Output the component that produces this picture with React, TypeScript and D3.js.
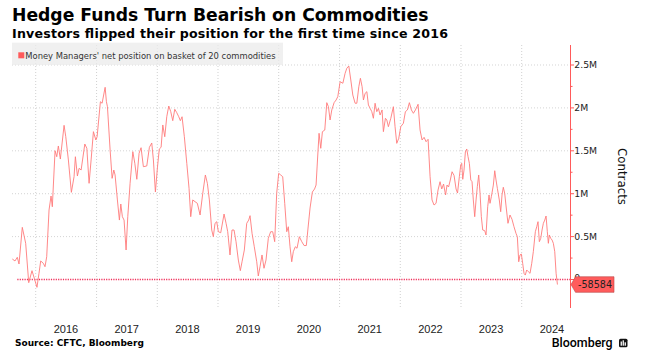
import React from "react";
import * as d3 from "d3";

// Weekly-ish observations as decimal years
const weeks: number[] = [2015.615,2015.659,2015.697,2015.725,2015.779,2015.835,2015.885,2015.939,2015.977,2016.021,2016.054,2016.082,2016.125,2016.153,2016.181,2016.219,2016.252,2016.273,2016.318,2016.346,2016.372,2016.405,2016.466,2016.494,2016.537,2016.586,2016.630,2016.652,2016.685,2016.713,2016.746,2016.807,2016.840,2016.877,2016.910,2016.948,2016.988,2017.009,2017.063,2017.091,2017.141,2017.162,2017.179,2017.223,2017.256,2017.284,2017.305,2017.343,2017.376,2017.399,2017.425,2017.453,2017.486,2017.514,2017.552,2017.597,2017.630,2017.663,2017.700,2017.733,2017.771,2017.827,2017.870,2017.909,2017.936,2017.969,2018.002,2018.033,2018.063,2018.091,2018.123,2018.156,2018.189,2018.222,2018.255,2018.288,2018.321,2018.354,2018.380,2018.408,2018.446,2018.486,2018.523,2018.551,2018.584,2018.622,2018.660,2018.705,2018.749,2018.792,2018.825,2018.858,2018.897,2018.923,2018.951,2018.979,2019.006,2019.045,2019.100,2019.133,2019.160,2019.198,2019.231,2019.264,2019.297,2019.335,2019.368,2019.396,2019.434,2019.473,2019.506,2019.528,2019.561,2019.598,2019.638,2019.664,2019.692,2019.725,2019.758,2019.791,2019.829,2019.868,2019.901,2019.934,2019.967,2020.000,2020.033,2020.066,2020.099,2020.132,2020.158,2020.186,2020.214,2020.240,2020.273,2020.301,2020.339,2020.379,2020.417,2020.454,2020.482,2020.515,2020.553,2020.589,2020.614,2020.639,2020.663,2020.691,2020.718,2020.757,2020.790,2020.817,2020.844,2020.872,2020.910,2020.943,2020.971,2021.009,2021.054,2021.091,2021.119,2021.152,2021.185,2021.218,2021.256,2021.284,2021.317,2021.343,2021.371,2021.393,2021.421,2021.449,2021.475,2021.503,2021.531,2021.557,2021.585,2021.613,2021.640,2021.667,2021.700,2021.722,2021.755,2021.778,2021.804,2021.844,2021.886,2021.914,2021.942,2021.975,2022.008,2022.051,2022.084,2022.117,2022.150,2022.183,2022.216,2022.249,2022.293,2022.326,2022.359,2022.392,2022.425,2022.458,2022.491,2022.523,2022.556,2022.589,2022.622,2022.655,2022.683,2022.713,2022.746,2022.770,2022.795,2022.820,2022.853,2022.886,2022.919,2022.943,2022.973,2022.996,2023.012,2023.029,2023.050,2023.072,2023.095,2023.116,2023.138,2023.161,2023.182,2023.203,2023.226,2023.248,2023.269,2023.292,2023.314,2023.335,2023.358,2023.391,2023.412,2023.440,2023.462,2023.478,2023.500,2023.533,2023.556,2023.577,2023.599,2023.631,2023.654,2023.676,2023.697,2023.720,2023.742,2023.774,2023.807,2023.840,2023.873,2023.906,2023.928,2023.951,2023.972,2023.994,2024.016,2024.038,2024.059,2024.082,2024.109,2024.137,2024.165,2024.191,2024.224,2024.247,2024.268,2024.290,2024.313,2024.334,2024.356,2024.379,2024.400,2024.421,2024.438,2024.454,2024.477,2024.499,2024.520,2024.543,2024.565,2024.587];

// Money managers' net position, thousands of contracts
const netPosition: number[] = [239,216,259,181,608,422,-37,103,14,-91,72,216,189,149,266,810,973,848,1501,1431,1556,1404,1797,1664,1393,1016,1198,1431,1206,1296,1276,1579,1529,1121,1393,1723,1626,1664,2072,2054,2240,2072,2014,1509,1179,1276,1218,927,693,880,732,693,344,732,1121,1490,1354,1168,1471,1536,1315,1323,1541,1591,1393,1020,1300,1521,1541,1801,1664,1897,2022,1956,1851,1984,1944,1897,1851,1897,1664,1354,1063,732,927,907,888,752,1005,1218,1121,927,577,499,655,674,557,545,763,655,557,286,577,577,441,227,103,207,344,655,693,744,538,382,207,41,149,286,131,227,480,557,557,441,1005,1238,1218,1198,888,557,615,382,207,324,382,364,499,441,396,396,600,833,1020,1055,1101,1416,1704,1529,1723,1742,2061,2014,1859,1976,2061,2092,2131,2305,2287,2403,2462,2488,2325,2150,2054,2054,2247,2345,2247,2092,2170,2189,2034,1995,1956,1879,2054,1956,1995,1917,1976,1723,1879,1859,1781,1879,2014,1781,1587,1646,1781,1821,1956,1976,2061,1976,1937,1976,2042,1742,1626,1657,1606,1634,1198,927,868,888,1043,1140,1055,1113,985,1101,1078,1148,1256,1212,1055,1008,1198,1335,1354,1168,1276,1486,1521,1431,1354,1160,1140,927,732,927,1082,1218,1005,732,577,569,519,848,985,888,965,1101,1268,1160,1063,927,790,985,1075,1005,857,655,752,702,615,538,499,207,286,297,189,72,52,111,91,72,189,324,557,615,674,441,480,577,655,693,740,557,422,519,480,460,422,324,72,-58.584];

const yearTicks: number[] = [2016, 2017, 2018, 2019, 2020, 2021, 2022, 2023, 2024];
const yTickValues: number[] = [0, 500000, 1000000, 1500000, 2000000, 2500000];
const yTickLabels: string[] = ["0", "0.5M", "1M", "1.5M", "2M", "2.5M"];
const yMinorTicks: number[] = [250000, 750000, 1250000, 1750000, 2250000];

const title = "Hedge Funds Turn Bearish on Commodities";
const subtitle = "Investors flipped their position for the first time since 2016";
const legendLabel = "Money Managers' net position on basket of 20 commodities";
const axisTitle = "Contracts";
const lastLabel = "-58584";
const source = "Source: CFTC, Bloomberg";

function toDate(t: number): Date {
  const y = Math.floor(t);
  const s = new Date(y, 0, 1).getTime();
  const e = new Date(y + 1, 0, 1).getTime();
  return new Date(s + (t - y) * (e - s));
}

export default function App() {
  const W = 648, H = 355;
  const plotLeft = 12, axisX = 570.5, plotTop = 45, plotBottom = 308;
  const x = d3.scaleTime()
    .domain([new Date(2016, 0, 1), new Date(2024, 0, 1)])
    .range([35.7, 521.7]);
  const y = d3.scaleLinear().domain([-332000, 2733000]).range([plotBottom, plotTop]);

  const data = weeks.map((t, i) => ({ d: toDate(t), v: netPosition[i] * 1000 }));
  const line = d3.line<{ d: Date; v: number }>().x(p => x(p.d)).y(p => y(p.v));

  const last = data[data.length - 1];
  const ly = y(last.v);
  const boxPath = `M${axisX + 0.5},${ly} L${axisX + 5},${ly - 7.8} L614,${ly - 7.8} L614,${ly + 7.8} L${axisX + 5},${ly + 7.8} Z`;

  const sans = "'DejaVu Sans', Verdana, sans-serif";

  return (
    <svg width={W} height={H} style={{ position: "absolute", left: 0, top: 0, background: "#fff" }}>
      <rect x={0} y={0} width={W} height={H} fill="#fff" />
      <text x={12} y={20.7} fontFamily={sans} fontWeight="bold" fontSize={17.2} fill="#000">{title}</text>
      <text x={12} y={37.7} fontFamily={sans} fontWeight="bold" fontSize={12.6} textLength={436} lengthAdjust="spacing" fill="#000">{subtitle}</text>

      {/* horizontal gridlines */}
      {yTickValues.filter(v => v > 0).map(v => (
        <line key={"hg" + v} x1={plotLeft} x2={axisX} y1={y(v)} y2={y(v)} stroke="#d4d4d4" strokeWidth={1} strokeDasharray="1,2" />
      ))}
      {/* vertical gridlines */}
      {yearTicks.map(yr => (
        <line key={"vg" + yr} x1={x(new Date(yr, 0, 1))} x2={x(new Date(yr, 0, 1))} y1={plotTop} y2={plotBottom - 1} stroke="#d0d0d0" strokeWidth={1} strokeDasharray="1,2" />
      ))}

      {/* legend */}
      <rect x={12} y={42.7} width={271} height={22.3} fill="#ebebeb" opacity={0.75} />
      <rect x={18.3} y={52.3} width={6} height={6} fill="#ff5a5a" />
      <text x={25.3} y={59} fontFamily={sans} fontSize={8.4} fill="#333">{legendLabel}</text>

      {/* zero line */}
      <line x1={17.3} x2={axisX} y1={y(0)} y2={y(0)} stroke="#f0305a" strokeWidth={1.4} strokeDasharray="1.2,1.2" />

      {/* series */}
      <path d={line(data) || ""} fill="none" stroke="#ff7a7a" strokeWidth={0.9} strokeLinejoin="round" />

      {/* right axis */}
      <line x1={axisX} x2={axisX} y1={plotTop} y2={plotBottom} stroke="#ff5a5a" strokeWidth={1} />
      {yTickValues.map(v => (
        <line key={"t" + v} x1={axisX} x2={axisX + 3.5} y1={y(v)} y2={y(v)} stroke="#ff5a5a" strokeWidth={1} />
      ))}
      {yMinorTicks.map(v => (
        <line key={"mt" + v} x1={axisX} x2={axisX + 2} y1={y(v)} y2={y(v)} stroke="#ff5a5a" strokeWidth={1} />
      ))}
      {yTickValues.map((v, i) => (
        <text key={"tl" + v} x={574.3} y={v === 0 ? y(v) - 1.5 : y(v)} dy="0.35em" fontFamily={sans} fontSize={9.3} fill="#222">{yTickLabels[i]}</text>
      ))}
      <text transform={`translate(621.7,176.5) rotate(90)`} textAnchor="middle" dominantBaseline="central" fontFamily={sans} fontSize={11.8} fill="#111">{axisTitle}</text>

      {/* last value label */}
      <path d={boxPath} fill="#ff5c5c" stroke="#b84848" strokeWidth={0.6} />
      <text x={595} y={ly} dy="0.36em" textAnchor="middle" fontFamily={sans} fontSize={9.6} fill="#222">{lastLabel}</text>

      {/* x axis labels */}
      {yearTicks.map(yr => (
        <text key={"xl" + yr} x={x(new Date(yr, 6, 1))} y={333.3} textAnchor="middle" fontFamily="'Liberation Sans', Arial, sans-serif" fontSize={11} fill="#222">{yr}</text>
      ))}

      {/* footer */}
      <text x={15} y={346} fontFamily={sans} fontWeight="bold" fontSize={9} fill="#000">{source}</text>
      <text x={551.7} y={346.7} fontFamily="Roboto, 'Liberation Sans', sans-serif" fontWeight={500} fontSize={13.5} textLength={61} lengthAdjust="spacingAndGlyphs" fill="#000">Bloomberg</text>
      <rect x={619} y={338.7} width={8.5} height={8.5} rx={1.5} fill="#111" />
      <rect x={620.6} y={341.5} width={1.3} height={4.2} fill="#fff" />
      <rect x={622.6} y={340.3} width={1.3} height={5.4} fill="#fff" />
      <rect x={624.6} y={342.3} width={1.3} height={3.4} fill="#fff" />
    </svg>
  );
}
